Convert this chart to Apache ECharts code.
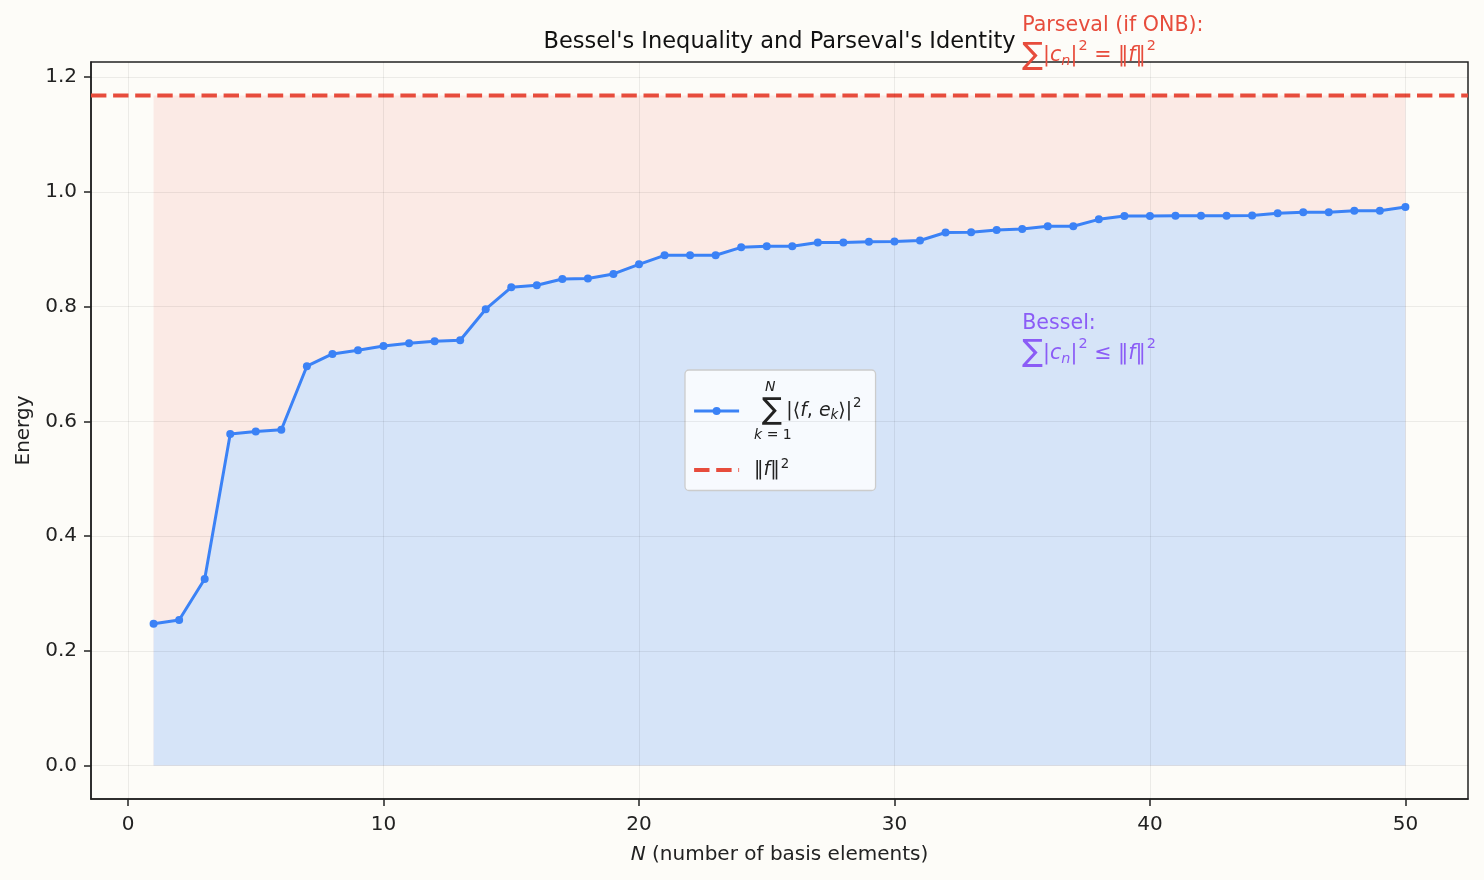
<!DOCTYPE html>
<html><head><meta charset="utf-8">
<script src="https://cdn.jsdelivr.net/npm/echarts@6/dist/echarts.min.js"></script>
<style>html,body{margin:0;padding:0;background:#fdfcf8}#c{width:1484px;height:880px}</style>
</head><body><div id="c"></div>
<script>
// ---- data ----
const basisN = [1,2,3,4,5,6,7,8,9,10,11,12,13,14,15,16,17,18,19,20,21,22,23,24,25,26,27,28,29,30,31,32,33,34,35,36,37,38,39,40,41,42,43,44,45,46,47,48,49,50];
const partialSums = [0.2473,0.2537,0.3251,0.5777,0.5822,0.5852,0.6961,0.7175,0.7240,0.7314,
  0.7361,0.7396,0.7414,0.7954,0.8337,0.8372,0.8481,0.8490,0.8569,0.8737,
  0.8894,0.8894,0.8895,0.9033,0.9051,0.9052,0.9117,0.9118,0.9131,0.9134,
  0.9152,0.9291,0.9294,0.9335,0.9352,0.9399,0.9400,0.9521,0.9579,0.9580,
  0.9584,0.9584,0.9585,0.9586,0.9626,0.9643,0.9644,0.9671,0.9672,0.9735];
const normSq = 1.168;
const xTicks = [0,10,20,30,40,50];
const yTicks = [0,0.2,0.4,0.6,0.8,1.0,1.2];

// ---- styling ----
const font = 'DejaVu Sans';
const bg = '#fdfcf8';
const blue = '#3b82f6', red = '#e74c3c', purple = '#8b5cf6';
const gridColor = 'rgba(0,0,0,0.065)';

const xPad = 0.05*(basisN[basisN.length-1]-basisN[0]);
const xMin = basisN[0]-xPad, xMax = basisN[basisN.length-1]+xPad;
const yPad = 0.05*normSq;
const yMin = -yPad, yMax = normSq+yPad;

const sumData = basisN.map((n,i)=>[n, partialSums[i]]);
const normData = basisN.map(n=>[n, normSq]);

const chart = echarts.init(document.getElementById('c'), null, {renderer:'canvas'});

function mathRich(size, color, sumSize, sumLH){
  const c = color ? {color:color} : {};
  return {
    a:Object.assign({fontFamily:font,fontSize:size,lineHeight:size+5,verticalAlign:'middle'},c),
    sum:Object.assign({fontFamily:font,fontSize:sumSize,lineHeight:sumLH,verticalAlign:'middle'},c),
    t:Object.assign({fontFamily:font,fontSize:size,lineHeight:size+6,verticalAlign:'middle'},c),
    it:Object.assign({fontFamily:font,fontSize:size,fontStyle:'italic',lineHeight:size+6,verticalAlign:'middle'},c),
    sub:Object.assign({fontFamily:font,fontSize:size*0.7,fontStyle:'italic',lineHeight:size*0.8,verticalAlign:'bottom',padding:[0,0,4,0]},c),
    sup:Object.assign({fontFamily:font,fontSize:size*0.7,lineHeight:size*0.8,verticalAlign:'top',padding:[1,0,0,1]},c)
  };
}

const legendRich = Object.assign(mathRich(19,'#222',30,30), {
  pn:{fontFamily:font,fontSize:14,fontStyle:'italic',color:'#222',lineHeight:18,padding:[0,0,0,21]},
  sumL:{fontFamily:font,fontSize:30,color:'#222',lineHeight:30,verticalAlign:'middle',padding:[0,4,0,18]},
  lk:{fontFamily:font,fontSize:14,fontStyle:'italic',color:'#222',lineHeight:18,padding:[0,0,0,10]},
  lim:{fontFamily:font,fontSize:14,color:'#222',lineHeight:18},
  p2:{fontFamily:font,fontSize:19,color:'#222',lineHeight:26,padding:[0,0,0,10],verticalAlign:'middle'}
});

function axisCommon(ticks){
  return {
    axisLine:{show:true,onZero:false,lineStyle:{color:'#222',width:1.5}},
    axisTick:{show:true,length:7,inside:false,customValues:ticks,lineStyle:{color:'#222',width:1.5}},
    splitLine:{show:false}
  };
}

chart.setOption({
  backgroundColor: bg,
  animation:false,
  title:{text:"Bessel's Inequality and Parseval's Identity",left:779.5,top:31,padding:0,textAlign:'center',
    textStyle:{fontFamily:font,fontSize:22.5,fontWeight:'normal',color:'#111'}},
  grid:{left:91,right:16,top:62,bottom:81,show:true,borderColor:'#222',borderWidth:1.5,backgroundColor:bg,containLabel:false},
  xAxis:Object.assign({type:'value',min:xMin,max:xMax,
    name:'{i|N} (number of basis elements)',nameLocation:'middle',nameGap:46,
    nameTextStyle:{fontFamily:font,fontSize:20,color:'#222',rich:{i:{fontFamily:font,fontSize:20,fontStyle:'italic',color:'#222'}}},
    axisLabel:{fontFamily:font,fontSize:20,color:'#222',margin:16,customValues:xTicks,formatter:v=>String(v)}},
    axisCommon(xTicks)),
  yAxis:Object.assign({type:'value',min:yMin,max:yMax,
    name:'Energy',nameLocation:'middle',nameGap:53,
    nameTextStyle:{fontFamily:font,fontSize:20,color:'#222'},
    axisLabel:{fontFamily:font,fontSize:20,color:'#222',margin:14,customValues:yTicks,formatter:v=>v.toFixed(1)}},
    axisCommon(yTicks)),
  legend:{
    data:[{name:'sum'},{name:'norm',itemStyle:{color:'rgba(0,0,0,0)',borderWidth:0,opacity:0}}],
    orient:'vertical',left:685,top:370,padding:[10,14,11,7],itemGap:15,itemWidth:45,itemHeight:10,
    backgroundColor:'rgba(255,255,255,0.8)',borderColor:'#cccccc',borderWidth:1.3,borderRadius:4,
    selectedMode:false,
    lineStyle:{width:'inherit',type:'inherit'},
    textStyle:{fontFamily:font,fontSize:19,color:'#222',rich:legendRich},
    formatter:function(name){
      if(name==='sum') return '{pn|N}\n{sumL|∑}{t||⟨}{it|f}{t|, }{it|e}{sub|k}{t|⟩|}{sup|2}\n{lk|k}{lim| = 1}';
      return '{p2|‖}{it|f}{t|‖}{sup|2}';
    }
  },
  series:[
    {name:'gapFill',type:'line',data:normData,symbol:'none',silent:true,
      lineStyle:{width:0},areaStyle:{color:'#fbeae5',opacity:1},z:1},
    {name:'belowFill',type:'line',data:sumData,symbol:'none',silent:true,
      lineStyle:{width:0},areaStyle:{color:'#d6e4f8',opacity:1},z:1,
      markLine:{silent:true,symbol:'none',label:{show:false},animation:false,
        lineStyle:{color:gridColor,width:1,type:'solid'},
        data:xTicks.map(v=>({xAxis:v})).concat(yTicks.map(v=>({yAxis:v})))}},
    {name:'norm',type:'line',data:[[xMin,normSq],[xMax,normSq]],symbol:'none',silent:true,
      itemStyle:{color:red},lineStyle:{color:red,width:4.2,type:[15.4,6.7]},z:3},
    {name:'sum',type:'line',data:sumData,symbol:'circle',symbolSize:8,showSymbol:true,
      itemStyle:{color:blue},lineStyle:{color:blue,width:3},z:5}
  ]
});

// annotations placed at data x = 35
const annX = 35;
const pPars = chart.convertToPixel({gridIndex:0},[annX, 1.312]);
const pBes = chart.convertToPixel({gridIndex:0},[annX, 0.793]);
chart.setOption({graphic:[
  {type:'text',x:pPars[0],y:pPars[1],silent:true,z:10,
    style:{text:'{a|Parseval (if ONB):}\n{sum|∑}{t||}{it|c}{sub|n}{t||}{sup|2}{t| = ‖}{it|f}{t|‖}{sup|2}',
      fill:red,font:'20.6px "DejaVu Sans"',rich:mathRich(20.6,null,31,34),align:'left',verticalAlign:'top'}},
  {type:'text',x:pBes[0],y:pBes[1],silent:true,z:10,
    style:{text:'{a|Bessel:}\n{sum|∑}{t||}{it|c}{sub|n}{t||}{sup|2}{t| ≤ ‖}{it|f}{t|‖}{sup|2}',
      fill:purple,font:'20.6px "DejaVu Sans"',rich:mathRich(20.6,null,31,34),align:'left',verticalAlign:'top'}}
]});
</script></body></html>
